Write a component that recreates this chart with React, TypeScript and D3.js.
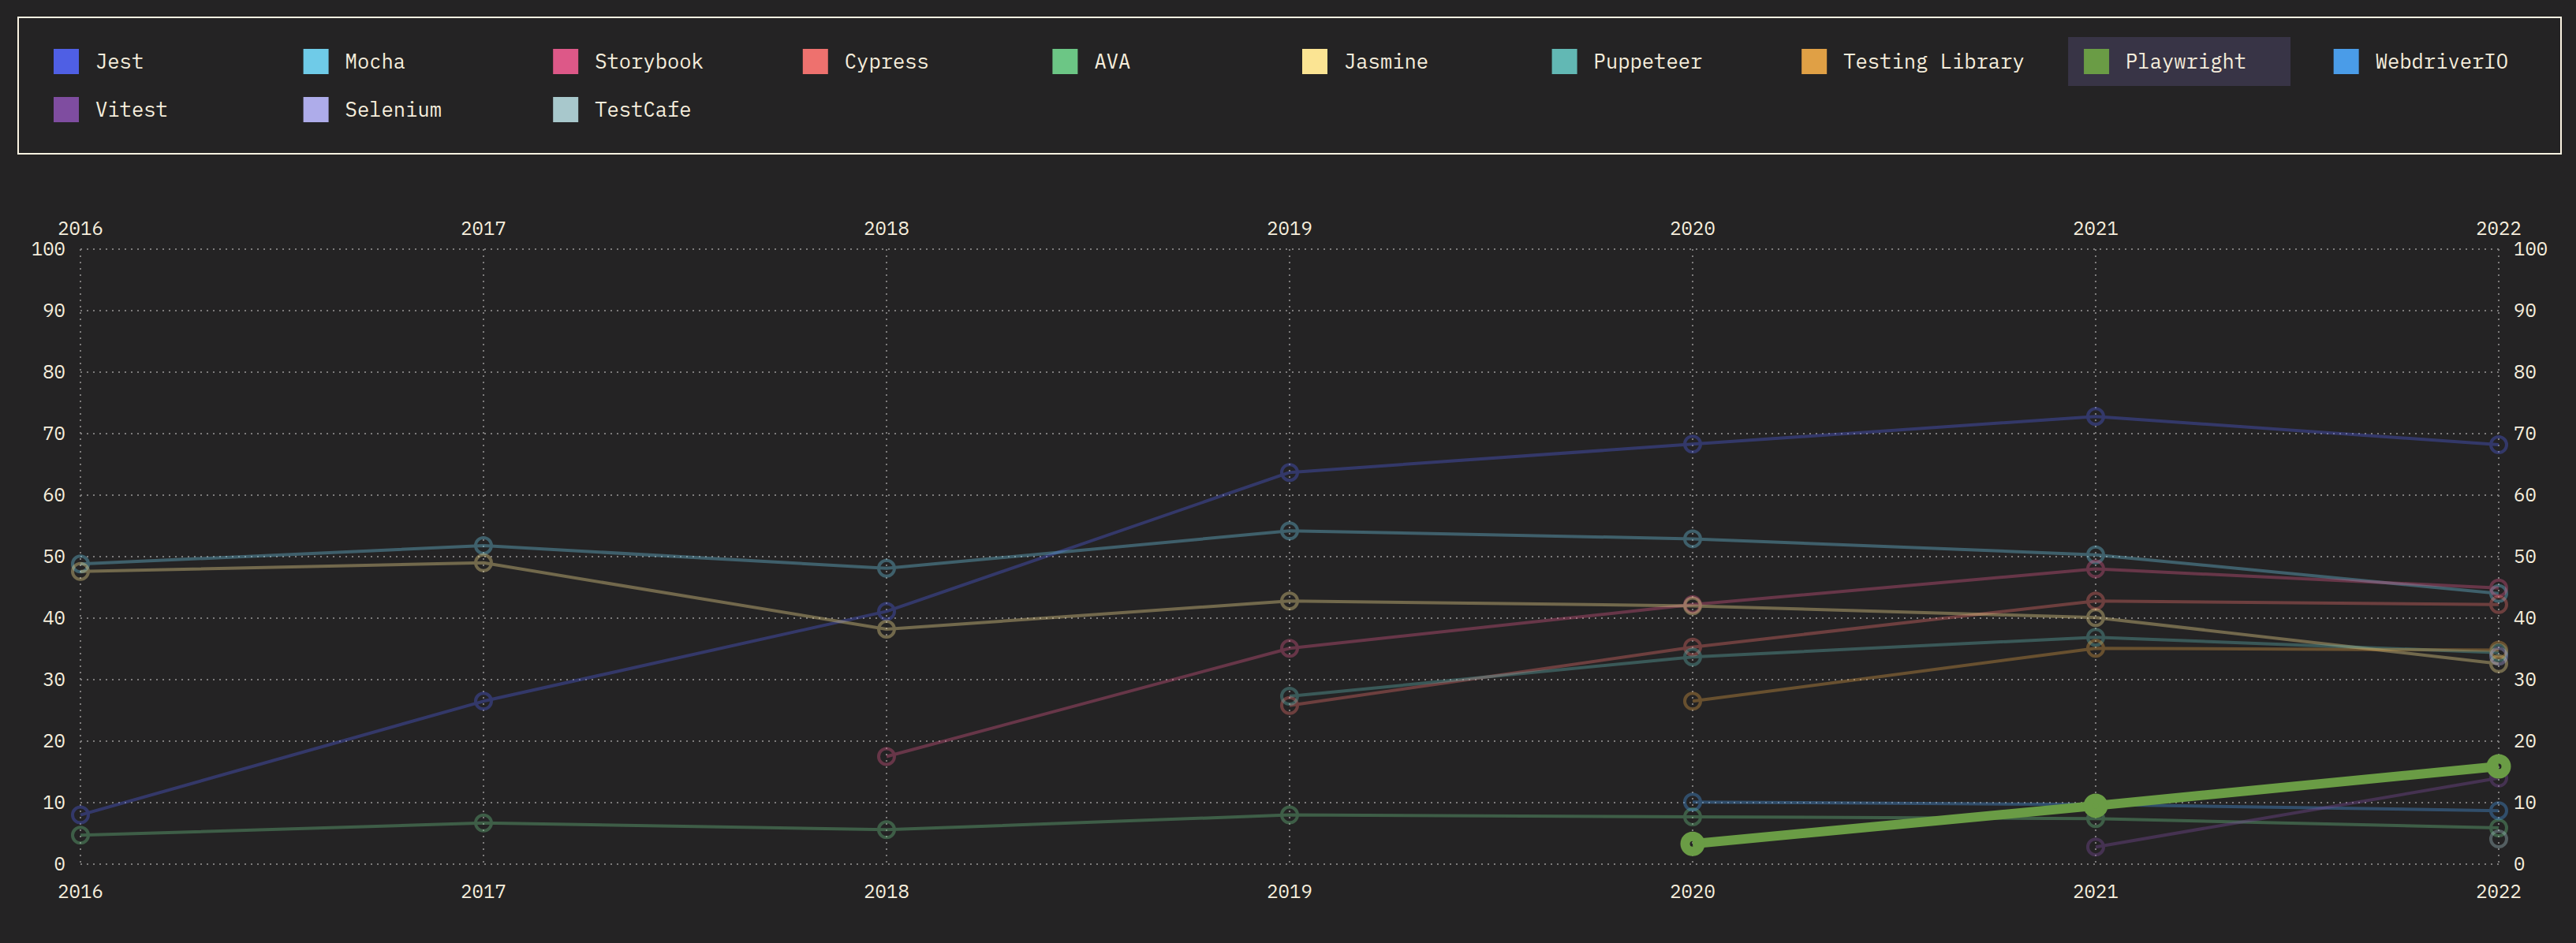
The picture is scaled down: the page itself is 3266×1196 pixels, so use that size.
import React from "react";
import * as d3 from "d3";

const years = [2016, 2017, 2018, 2019, 2020, 2021, 2022];
const yTicks = [0, 10, 20, 30, 40, 50, 60, 70, 80, 90, 100];

const seriesNames = [
  "Jest", "Mocha", "Storybook", "Cypress", "AVA", "Jasmine", "Puppeteer",
  "Testing Library", "Playwright", "WebdriverIO", "Vitest", "Selenium", "TestCafe",
];
const seriesColors = [
  "#4f5fe4", "#6fcbe8", "#dd5888", "#ee716e", "#6cc685", "#fbe493", "#62b8b4",
  "#e0a045", "#6a9c45", "#4a9ce8", "#7f4da0", "#aeacea", "#a8c8cc",
];

const jest = [8.0, 26.5, 41.1, 63.7, 68.3, 72.8, 68.2];
const mocha = [48.8, 51.8, 48.1, 54.2, 52.9, 50.3, 44.0];
const storybook = [null, null, 17.5, 35.1, 42.2, 48.0, 44.9];
const cypress = [null, null, null, 25.8, 35.3, 42.8, 42.2];
const ava = [4.7, 6.7, 5.6, 8.0, 7.7, 7.4, 5.9];
const jasmine = [47.6, 49.0, 38.2, 42.8, 42.0, 40.1, 32.6];
const puppeteer = [null, null, null, 27.3, 33.7, 36.9, 34.4];
const testingLibrary = [null, null, null, null, 26.5, 35.1, 34.8];
const playwright = [null, null, null, null, 3.3, 9.5, 15.9];
const webdriverio = [null, null, null, null, 10.1, 9.7, 8.7];
const vitest = [null, null, null, null, null, 2.8, 14.0];
const selenium = [null, null, null, null, null, null, 33.8];
const testcafe = [null, null, null, null, null, null, 4.1];

const seriesValues: (number | null)[][] = [
  jest, mocha, storybook, cypress, ava, jasmine, puppeteer,
  testingLibrary, playwright, webdriverio, vitest, selenium, testcafe,
];
const highlighted = "Playwright";

const W = 3266;
const H = 1196;
const BG = "#242324";
const TEXT = "#f6eedd";
const FONT = "'IBM Plex Mono', 'DejaVu Sans Mono', monospace";

export default function App() {
  const x = d3.scaleLinear().domain([2016, 2022]).range([102, 3168]);
  const y = d3.scaleLinear().domain([0, 100]).range([1096, 316]);

  const line = d3
    .line<{ year: number; v: number | null }>()
    .defined((d) => d.v != null)
    .x((d) => x(d.year))
    .y((d) => y(d.v as number));

  // legend layout
  const legendFont = 25.5;
  const charW = legendFont * 0.602;
  const itemMin = 282;
  const itemGap = 34.6;
  const legendLeft = 48;
  const legendRight = 3247;
  const rowH = 61;
  let cx = legendLeft;
  let row = 0;
  const legendItems = seriesNames.map((name, i) => {
    const w = Math.max(itemMin, 93 + name.length * charW);
    if (cx + w > legendRight) {
      cx = legendLeft;
      row += 1;
    }
    const item = { name, color: seriesColors[i], x: cx, row, w };
    cx += w + itemGap;
    return item;
  });

  const series = seriesNames.map((name, i) => ({
    name,
    color: seriesColors[i],
    points: years.map((year, j) => ({ year, v: seriesValues[i][j] })),
  }));
  const ordered = [
    ...series.filter((s) => s.name !== highlighted),
    ...series.filter((s) => s.name === highlighted),
  ];

  return (
    <svg
      width={W}
      height={H}
      style={{ position: "absolute", left: 0, top: 0, background: BG, fontFamily: FONT }}
    >
      <rect x={0} y={0} width={W} height={H} fill={BG} />
      {/* legend */}
      <rect x={23} y={22} width={3224} height={173} fill="none" stroke="#fbf3e2" strokeWidth={2} />
      {legendItems.map((it) => {
        const cy = 78 + it.row * rowH;
        return (
          <g key={it.name}>
            {it.name === highlighted && (
              <rect x={it.x} y={cy - 31} width={it.w} height={62} fill="#383446" />
            )}
            <rect x={it.x + 20} y={cy - 16} width={32} height={32} fill={it.color} />
            <text
              x={it.x + 73}
              y={cy}
              dy="0.35em"
              fill={TEXT}
              fontSize={legendFont}
            >
              {it.name}
            </text>
          </g>
        );
      })}

      {/* grid */}
      <g stroke="#7d7b7b" strokeWidth={2} strokeDasharray="2 6">
        {yTicks.map((t) => (
          <line key={"h" + t} x1={x(2016)} x2={x(2022)} y1={y(t)} y2={y(t)} />
        ))}
        {years.map((yr) => (
          <line key={"v" + yr} x1={x(yr)} x2={x(yr)} y1={y(100)} y2={y(0)} />
        ))}
      </g>

      {/* axis labels */}
      <g fill={TEXT} fontSize={24}>
        {yTicks.map((t) => (
          <text key={"l" + t} x={x(2016) - 19} y={y(t)} dy="0.35em" textAnchor="end">
            {t}
          </text>
        ))}
        {yTicks.map((t) => (
          <text key={"r" + t} x={x(2022) + 19} y={y(t)} dy="0.35em" textAnchor="start">
            {t}
          </text>
        ))}
        {years.map((yr) => (
          <text key={"t" + yr} x={x(yr)} y={290} dy="0.35em" textAnchor="middle">
            {yr}
          </text>
        ))}
        {years.map((yr) => (
          <text key={"b" + yr} x={x(yr)} y={1131} dy="0.35em" textAnchor="middle">
            {yr}
          </text>
        ))}
      </g>

      {/* series */}
      {ordered.map((s) => {
        const hi = s.name === highlighted;
        return (
          <g key={s.name} opacity={hi ? 1 : 0.36}>
            <path
              d={line(s.points) || ""}
              fill="none"
              stroke={s.color}
              strokeWidth={hi ? 12 : 4}
              strokeLinejoin="round"
            />
            {s.points
              .filter((p) => p.v != null)
              .map((p) => (
                <circle
                  key={p.year}
                  cx={x(p.year)}
                  cy={y(p.v as number)}
                  r={hi ? 9.5 : 10}
                  fill="none"
                  stroke={s.color}
                  strokeWidth={hi ? 12 : 4}
                />
              ))}
          </g>
        );
      })}
    </svg>
  );
}
